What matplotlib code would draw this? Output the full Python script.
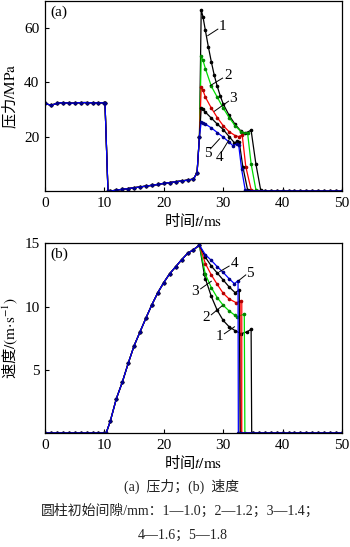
import matplotlib
matplotlib.use("Agg")
import matplotlib.pyplot as plt

plt.rcParams['font.family'] = ['Liberation Serif', 'Noto Sans CJK SC']
plt.rcParams['mathtext.fontset'] = 'stix'
plt.rcParams['axes.unicode_minus'] = False

# ---- pressure (a) ----
t_shared_p = [0, 1, 2, 3, 4, 5, 6, 7, 8, 9, 10, 10.1, 10.6, 11, 12, 13, 14, 15, 16, 17,
              18, 19, 20, 21, 22, 23, 24, 25, 25.6, 26.0]
p_shared = [32.2, 31.5, 32.2, 32.5, 32.3, 32.3, 32.5, 32.5, 32.4, 32.4, 32.4, 32.3, 0, 0,
            0.3, 0.6, 0.9, 1.2, 1.5, 1.8, 2.1, 2.4, 2.8, 3.1, 3.4, 3.7, 4.0, 4.4, 6.7, 20]

t_p1 = [26.3, 26.6, 27, 27.5, 28, 28.5, 29, 29.5, 30, 31, 32, 33, 33.6, 34.7, 35.5, 36.3, 36.6]
p1 = [66.6, 64, 59, 53, 47.5, 42.5, 38.5, 35, 32, 27.8, 24.5, 22, 21.2, 22.3, 10, 0.5, 0]
t_p2 = [26.3, 26.6, 27, 28, 29, 30, 31, 32, 33, 33.4, 34.1, 34.7, 35.5, 35.8]
p2 = [49.5, 48, 45, 38.5, 34.5, 30.5, 27, 24, 21.8, 21.2, 21.4, 10, 0.5, 0]
t_p3 = [26.3, 26.6, 27, 28, 29, 30, 31, 32, 32.6, 33.2, 33.8, 34.7, 35.0]
p3 = [38.3, 37, 34.5, 30.5, 27, 24, 21.8, 20.4, 20.0, 20.6, 9, 0.5, 0]
t_p4 = [26.3, 26.6, 27, 28, 29, 30, 31, 31.9, 32.4, 32.7, 33.3, 34.1, 34.4]
p4 = [30.5, 30, 29, 26.8, 24.6, 22.6, 20.0, 17.7, 18.3, 18.0, 9, 0.5, 0]
t_p5 = [26.3, 26.6, 27, 28, 29, 30, 31, 31.6, 32.4, 32.6, 33.1, 33.7, 34.0]
p5 = [25.3, 25, 24.6, 23.2, 21.5, 19.8, 18.0, 16.7, 17.3, 17.0, 8, 0.5, 0]

# ---- velocity (b) ----
t_shared_v = [0, 1, 2, 3, 4, 5, 6, 7, 8, 9, 10, 10.3, 11, 12, 13, 14, 15, 16, 17, 18, 19,
              20, 21, 22, 23, 24, 25, 26]
v_shared = [0, 0, 0, 0, 0, 0, 0, 0, 0, 0, 0, 0, 0.95, 2.7, 4.0, 5.5, 6.9, 8.0, 9.1, 10.15,
            11.1, 11.9, 12.6, 13.15, 13.7, 14.2, 14.5, 14.85]

t_v1 = [26.8, 27, 28, 29, 30, 31, 32, 33, 34, 34.7, 34.8]
v1 = [12.6, 12.2, 10.8, 9.7, 8.9, 8.4, 8.1, 7.85, 8.0, 8.2, 0]
t_v2 = [27, 28, 29, 30, 31, 32, 32.4, 33.55, 33.65]
v2 = [12.55, 11.5, 10.7, 10.1, 9.65, 9.3, 9.2, 9.4, 0]
t_v3 = [27, 28, 29, 30, 31, 32.2, 33.0, 33.05]
v3 = [13.4, 12.5, 11.75, 11.05, 10.6, 10.3, 10.45, 0]
t_v4 = [27, 28, 29, 30, 31, 32, 32.7, 32.85]
v4 = [13.9, 13.2, 12.65, 12.1, 11.55, 11.1, 11.3, 0]
t_v5 = [27, 28, 29, 30, 31, 31.9, 32.5, 32.55]
v5 = [14.1, 13.65, 13.15, 12.7, 12.2, 11.8, 12.05, 0]
t_red_band = [32.85, 33.4]
v_red_band = [10.45, 10.45]

t_zero_p = list(range(37, 51))
t_zero_v = list(range(35, 51))

colors = ['black', '#00dd00', 'red', 'black', 'blue']
mcolors = ['black', '#008800', '#b00000', 'black', '#000088']

fig = plt.figure(figsize=(3.5, 5.47), dpi=100)
ax1 = fig.add_axes([0.1286, 0.6508, 0.8485, 0.3482])
ax2 = fig.add_axes([0.1286, 0.2084, 0.8485, 0.3468])

p_tails = [(t_p1, p1), (t_p2, p2), (t_p3, p3), (t_p4, p4), (t_p5, p5)]
for (tt, pp), c, mc in zip(p_tails, colors, mcolors):
    t = t_shared_p + tt + t_zero_p
    p = p_shared + pp + [0] * len(t_zero_p)
    ax1.plot(t, p, color=c, lw=0.9, marker='o', ms=1.6, mfc=mc, mec=mc)

ax2.fill_between(t_red_band, 0, v_red_band, color='red', alpha=0.4, lw=0)
v_tails = [(t_v1, v1), (t_v2, v2), (t_v3, v3), (t_v4, v4), (t_v5, v5)]
for (tt, vv), c, mc in zip(v_tails, colors, mcolors):
    t = t_shared_v + tt + t_zero_v
    v = v_shared + vv + [0] * len(t_zero_v)
    ax2.plot(t, v, color=c, lw=0.9, marker='o', ms=1.6, mfc=mc, mec=mc)

cjk = {'family': 'Noto Sans CJK SC', 'size': 11}
for ax in (ax1, ax2):
    ax.set_xlim(0, 50)
    ax.set_xticks(range(0, 51, 10))
    ax.tick_params(direction='in', length=3, labelsize=11, pad=4)
    ax.set_xlabel(r'时间$t\mathrm{/ms}$', fontdict=cjk, labelpad=2)
    for s in ax.spines.values():
        s.set_linewidth(0.9)

ax1.set_ylim(0, 70)
ax1.set_yticks([20, 40, 60])
ax1.set_ylabel(r'压力$\mathrm{/MPa}$', fontdict=cjk)
ax1.yaxis.set_label_coords(-0.085, 0.5)
ax1.text(0.017, 0.936, '(a)', transform=ax1.transAxes, fontsize=11, va='center')

ax2.set_ylim(0, 15)
ax2.set_yticks([5, 10, 15])
ax2.set_ylabel(r'速度$\mathrm{/(m{\cdot}s^{-1})}$', fontdict=cjk)
ax2.yaxis.set_label_coords(-0.085, 0.5)
ax2.text(0.017, 0.942, '(b)', transform=ax2.transAxes, fontsize=11, va='center')

# curve labels with leader lines
lab_p = [('1', (27.4, 57.1), (29.1, 59.5), (29.9, 60.4)),
         ('2', (27.8, 38.7), (29.9, 41.5), (30.8, 42.4)),
         ('3', (28.5, 29.3), (30.9, 33.0), (31.6, 33.9)),
         ('4', (31.0, 18.9), (29.8, 14.6), (29.4, 12.2)),
         ('5', (29.4, 19.2), (27.85, 15.5), (27.4, 13.8))]
lab_v = [('1', (31.9, 8.4), (30.2, 7.85), (29.4, 7.6)),
         ('2', (29.8, 10.05), (28.0, 9.35), (27.1, 9.1)),
         ('3', (28.0, 12.0), (26.2, 11.4), (25.3, 11.2)),
         ('4', (29.4, 12.76), (31.0, 13.2), (31.9, 13.4)),
         ('5', (32.6, 12.05), (33.8, 12.5), (34.5, 12.6))]
for ax, labs in ((ax1, lab_p), (ax2, lab_v)):
    for txt, a, b, c in labs:
        ax.plot([a[0], b[0]], [a[1], b[1]], color='black', lw=0.7)
        ax.text(c[0], c[1], txt, fontsize=11, ha='center', va='center')

cap = {'fontsize': 10, 'color': '#222222', 'ha': 'center', 'va': 'center'}
fig.text(182 / 350, 1 - 486 / 547, '(a)  压力；(b)  速度', **cap)
fig.text(180 / 350, 1 - 510.5 / 547, '圆柱初始间隙/mm：1—1.0；2—1.2；3—1.4；', **cap)
fig.text(182.5 / 350, 1 - 535 / 547, '4—1.6；5—1.8', **cap)

fig.savefig('out.png', dpi=100)
